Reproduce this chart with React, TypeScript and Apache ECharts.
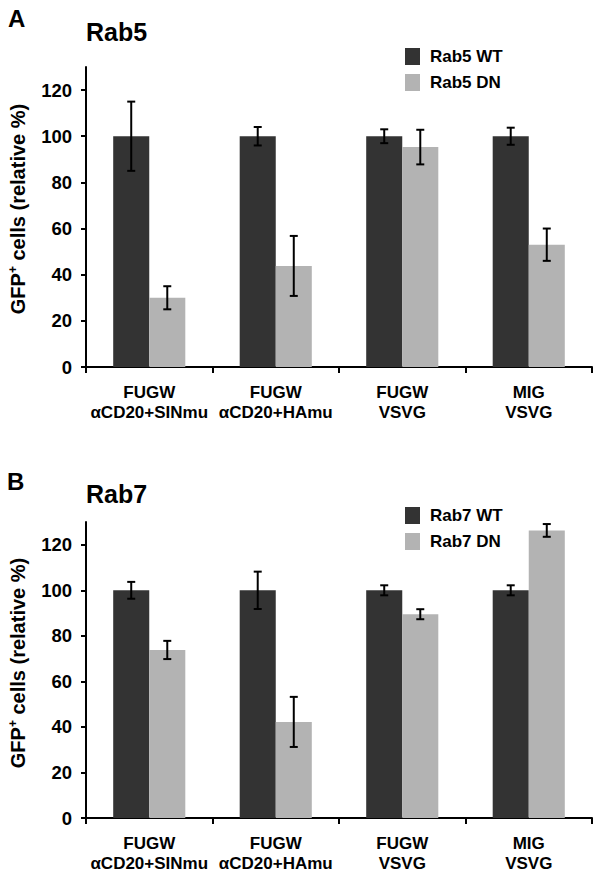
import React, { useEffect, useRef } from "react";
import * as echarts from "echarts";

const categories = ["FUGW\nαCD20+SINmu", "FUGW\nαCD20+HAmu", "FUGW\nVSVG", "MIG\nVSVG"];
const yTicks = [0, 20, 40, 60, 80, 100, 120];

const rab5WT = [100, 100, 100, 100];
const rab5WTErr = [15, 4, 3, 3.7];
const rab5DN = [30, 43.8, 95.3, 53];
const rab5DNErr = [5, 13, 7.5, 7];

const rab7WT = [100, 100, 100, 100];
const rab7WTErr = [3.7, 8.2, 2.2, 2.2];
const rab7DN = [73.8, 42.2, 89.5, 126.3];
const rab7DNErr = [4, 11, 2.2, 2.8];

const FONT = "'Liberation Sans', Arial, Helvetica, sans-serif";
const DARK = "#333333";
const LIGHT = "#b3b3b3";

function errData(vals: number[], errs: number[]) {
  return vals.map((v, i) => [i, v - errs[i], v + errs[i]]);
}

function errSeries(name: string, vals: number[], errs: number[], gi: number, sign: number) {
  return {
    type: "custom",
    name,
    xAxisIndex: gi,
    yAxisIndex: gi,
    silent: true,
    z: 10,
    encode: { x: 0, y: [1, 2] },
    data: errData(vals, errs),
    renderItem: (params: any, api: any) => {
      const idx = api.value(0);
      const lo = api.value(1);
      const hi = api.value(2);
      const band = api.size([1, 0])[0];
      const off = sign * band * 0.1425;
      const pLo = api.coord([idx, lo]);
      const pHi = api.coord([idx, hi]);
      const x = pLo[0] + off;
      const cw = 4;
      const st = { stroke: "#000", lineWidth: 2 };
      return {
        type: "group",
        children: [
          { type: "line", shape: { x1: x, y1: pLo[1], x2: x, y2: pHi[1] }, style: st },
          { type: "line", shape: { x1: x - cw, y1: pLo[1], x2: x + cw, y2: pLo[1] }, style: st },
          { type: "line", shape: { x1: x - cw, y1: pHi[1], x2: x + cw, y2: pHi[1] }, style: st },
        ],
      };
    },
  };
}

function xAxis(gi: number) {
  return {
    type: "category",
    gridIndex: gi,
    data: categories,
    axisLine: { lineStyle: { color: "#000", width: 2 } },
    axisTick: { show: true, length: 6, lineStyle: { color: "#000", width: 2 } },
    axisLabel: {
      color: "#000",
      fontFamily: FONT,
      fontWeight: "bold",
      fontSize: 17,
      lineHeight: 20,
      margin: 15,
      interval: 0,
    },
  };
}

function yAxis(gi: number) {
  return {
    type: "value",
    gridIndex: gi,
    min: 0,
    max: 130,
    interval: 10,
    splitLine: { show: false },
    axisLine: { show: true, lineStyle: { color: "#000", width: 2 } },
    axisTick: { show: true, length: 5, customValues: yTicks, lineStyle: { color: "#000", width: 2 } },
    axisLabel: {
      color: "#000",
      fontFamily: FONT,
      fontWeight: "bold",
      fontSize: 18.5,
      margin: 14,
      customValues: yTicks,
    },
  };
}

function bars(name: string, data: number[], gi: number, color: string) {
  return {
    type: "bar",
    name,
    xAxisIndex: gi,
    yAxisIndex: gi,
    data,
    barGap: "0%",
    barCategoryGap: "43%",
    itemStyle: { color },
  };
}

function legend(top: number, names: string[]) {
  return {
    data: names,
    orient: "vertical",
    left: 400,
    top,
    itemWidth: 15,
    itemHeight: 17,
    itemGap: 9,
    icon: "rect",
    textStyle: { color: "#000", fontFamily: FONT, fontWeight: "bold", fontSize: 17, padding: [0, 0, 0, 5] },
  };
}

const yTitleRich = {
  a: { fontFamily: FONT, fontWeight: "bold", fontSize: 20, fill: "#000" },
  s: { fontFamily: FONT, fontWeight: "bold", fontSize: 12, fill: "#000", padding: [0, 0, 10, 0] },
};

function titleText(x: number, y: number, text: string, size: number) {
  return {
    type: "text",
    x,
    y,
    style: { text, fill: "#000", font: `bold ${size}px ${FONT}`, textAlign: "left", textVerticalAlign: "middle" },
  };
}

function yTitle(y: number) {
  return {
    type: "text",
    x: 18,
    y,
    rotation: Math.PI / 2,
    style: {
      text: "{a|GFP}{s|+}{a| cells (relative %)}",
      rich: yTitleRich,
      textAlign: "center",
      textVerticalAlign: "middle",
      fill: "#000",
    },
  };
}

export default function App() {
  const ref = useRef<HTMLDivElement>(null);
  useEffect(() => {
    document.body.style.margin = "0";
    const chart = echarts.init(ref.current!, undefined, { renderer: "svg" });
    chart.setOption({
      animation: false,
      backgroundColor: "#fff",
      grid: [
        { left: 86, top: 67, width: 506, height: 300 },
        { left: 86, top: 522, width: 506, height: 298 },
      ],
      legend: [legend(43, ["Rab5 WT", "Rab5 DN"]), legend(502, ["Rab7 WT", "Rab7 DN"])],
      xAxis: [xAxis(0), xAxis(1)],
      yAxis: [yAxis(0), yAxis(1)],
      series: [
        bars("Rab5 WT", rab5WT, 0, DARK),
        bars("Rab5 DN", rab5DN, 0, LIGHT),
        bars("Rab7 WT", rab7WT, 1, DARK),
        bars("Rab7 DN", rab7DN, 1, LIGHT),
        errSeries("e5w", rab5WT, rab5WTErr, 0, -1),
        errSeries("e5d", rab5DN, rab5DNErr, 0, 1),
        errSeries("e7w", rab7WT, rab7WTErr, 1, -1),
        errSeries("e7d", rab7DN, rab7DNErr, 1, 1),
      ],
      graphic: [
        titleText(8, 18, "A", 24),
        titleText(86, 32, "Rab5", 25),
        titleText(7, 481, "B", 24),
        titleText(86, 494, "Rab7", 25),
        yTitle(209),
        yTitle(663),
      ],
    });
    return () => chart.dispose();
  }, []);
  return <div ref={ref} style={{ position: "absolute", left: 0, top: 0, width: 602, height: 873 }} />;
}
